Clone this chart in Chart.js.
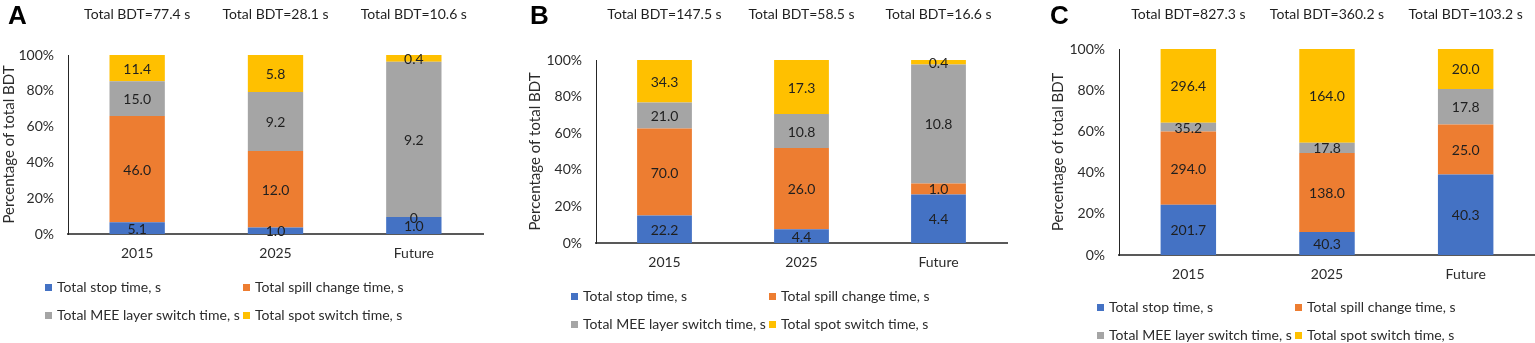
<!DOCTYPE html>
<html>
<head>
<title>Beam delivery time breakdown</title>
<script src="https://cdn.jsdelivr.net/npm/chart.js"></script>
<style>
    body { margin: 0; background: #fff; font-family: Lato, sans-serif; }
    #wrap { position: relative; width: 1535px; height: 343px; overflow: hidden; }
    .panel { position: absolute; top: 0; height: 343px; }
    .panel canvas { position: absolute; left: 0; top: 0; }
    .letter { position: absolute; top: 0; font: bold 26px "Liberation Sans", Arial, sans-serif; color: #000; }
    .item { position: absolute; white-space: nowrap; font-size: 14px; line-height: 16px; color: #2b2b2b; }
    .box { display: inline-block; width: 7px; height: 7px; margin-right: 5px; vertical-align: 1px; }
</style>
</head>
<body>
<div id="wrap"></div>
<script>
    // categories and series
    const categories = ['2015', '2025', 'Future'];
    const seriesNames = ['Total stop time, s', 'Total spill change time, s',
        'Total MEE layer switch time, s', 'Total spot switch time, s'];
    const seriesColors = ['#4472C4', '#ED7D31', '#A5A5A5', '#FFC000'];

    // panel A (seconds)
    const stopA = [5.1, 1.0, 1.0];
    const spillA = [46.0, 12.0, 0];
    const meeA = [15.0, 9.2, 9.2];
    const spotA = [11.4, 5.8, 0.4];
    const totalA = [77.4, 28.1, 10.6];

    // panel B
    const stopB = [22.2, 4.4, 4.4];
    const spillB = [70.0, 26.0, 1.0];
    const meeB = [21.0, 10.8, 10.8];
    const spotB = [34.3, 17.3, 0.4];
    const totalB = [147.5, 58.5, 16.6];

    // panel C
    const stopC = [201.7, 40.3, 40.3];
    const spillC = [294.0, 138.0, 25.0];
    const meeC = [35.2, 17.8, 17.8];
    const spotC = [296.4, 164.0, 20.0];
    const totalC = [827.3, 360.2, 103.2];

    const yTicks = [0, 20, 40, 60, 80, 100];

    // layout of the three panels (pixels)
    const panels = [
        { letter: 'A', series: [stopA, spillA, meeA, spotA], totals: totalA,
          left: 0, width: 510, chartLeft: 68, chartRight: 483, chartTop: 55, chartBottom: 234,
          titlePad: 0, letterX: 8, legendX: [45, 243], legendY: [287, 315] },
        { letter: 'B', series: [stopB, spillB, meeB, spotB], totals: totalB,
          left: 510, width: 510, chartLeft: 86, chartRight: 497, chartTop: 60, chartBottom: 243,
          titlePad: 16, letterX: 20, legendX: [61, 259], legendY: [296, 324] },
        { letter: 'C', series: [stopC, spillC, meeC, spotC], totals: totalC,
          left: 1020, width: 515, chartLeft: 99, chartRight: 515, chartTop: 49, chartBottom: 255,
          titlePad: 29, letterX: 30, legendX: [77, 275], legendY: [307, 335] }
    ];

    // value labels in the middle of each segment
    const valueLabels = {
        id: 'valueLabels',
        afterDatasetsDraw(chart) {
            const ctx = chart.ctx;
            ctx.save();
            ctx.font = '14px Lato';
            ctx.fillStyle = '#1f1f1f';
            ctx.textAlign = 'center';
            ctx.textBaseline = 'middle';
            chart.data.datasets.forEach((ds, di) => {
                chart.getDatasetMeta(di).data.forEach((bar, i) => {
                    const p = bar.getCenterPoint();
                    const v = ds.raw[i];
                    ctx.fillText(v === 0 ? '0' : v.toFixed(1), p.x, p.y + 1);
                });
            });
            ctx.restore();
        }
    };

    // "Total BDT=..." above each bar
    const totalLabels = {
        id: 'totalLabels',
        afterDraw(chart, args, opts) {
            const ctx = chart.ctx;
            const xs = chart.scales.x;
            ctx.save();
            ctx.font = '14px Lato';
            ctx.fillStyle = '#1f1f1f';
            ctx.textAlign = 'center';
            ctx.textBaseline = 'middle';
            opts.values.forEach((t, i) => {
                ctx.fillText('Total BDT=' + t.toFixed(1) + ' s', xs.getPixelForValue(i), 14);
            });
            ctx.restore();
        }
    };

    const wrap = document.getElementById('wrap');

    panels.forEach(p => {
        const div = document.createElement('div');
        div.className = 'panel';
        div.style.left = p.left + 'px';
        div.style.width = p.width + 'px';
        wrap.appendChild(div);

        const canvas = document.createElement('canvas');
        canvas.width = p.width;
        canvas.height = 343;
        canvas.style.width = p.width + 'px';
        canvas.style.height = '343px';
        div.appendChild(canvas);

        const letter = document.createElement('div');
        letter.className = 'letter';
        letter.style.left = p.letterX + 'px';
        letter.textContent = p.letter;
        div.appendChild(letter);

        // legend, two columns
        seriesNames.forEach((name, i) => {
            const item = document.createElement('div');
            item.className = 'item';
            item.style.left = p.legendX[i % 2] + 'px';
            item.style.top = (p.legendY[Math.floor(i / 2)] - 8) + 'px';
            item.innerHTML = '<span class="box" style="background:' + seriesColors[i] + '"></span>' + name;
            div.appendChild(item);
        });

        // share of each segment in its bar
        const sums = categories.map((c, i) => p.series.reduce((a, s) => a + s[i], 0));
        const datasets = p.series.map((s, k) => ({
            label: seriesNames[k],
            data: s.map((v, i) => v / sums[i] * 100),
            raw: s,
            backgroundColor: seriesColors[k],
            borderWidth: 0,
            categoryPercentage: 1,
            barPercentage: 0.4
        }));

        const xHeight = 30;
        new Chart(canvas.getContext('2d'), {
            type: 'bar',
            data: { labels: categories, datasets: datasets },
            plugins: [valueLabels, totalLabels],
            options: {
                responsive: false,
                animation: false,
                layout: {
                    padding: {
                        left: 0,
                        right: p.width - p.chartRight,
                        top: p.chartTop,
                        bottom: 343 - p.chartBottom - xHeight
                    }
                },
                plugins: {
                    legend: { display: false },
                    tooltip: { enabled: false },
                    totalLabels: { values: p.totals }
                },
                scales: {
                    x: {
                        stacked: true,
                        grid: { display: false, drawTicks: false },
                        border: { display: true, color: '#595959', width: 2 },
                        ticks: { color: '#2b2b2b', font: { family: 'Lato', size: 14 }, padding: 11 },
                        afterFit: s => { s.height = xHeight; }
                    },
                    y: {
                        stacked: true,
                        min: 0,
                        max: 100,
                        afterBuildTicks: s => { s.ticks = yTicks.map(v => ({ value: v })); },
                        grid: { display: false, drawTicks: false },
                        border: { display: true, color: '#262626', width: 1 },
                        ticks: {
                            color: '#2b2b2b',
                            font: { family: 'Lato', size: 14 },
                            padding: 14,
                            callback: v => v + '%'
                        },
                        title: {
                            display: true,
                            text: 'Percentage of total BDT',
                            color: '#2b2b2b',
                            font: { family: 'Lato', size: 15 },
                            padding: { top: p.titlePad, bottom: 0 }
                        },
                        afterFit: s => { s.width = p.chartLeft; }
                    }
                }
            }
        });
    });
</script>
</body>
</html>
